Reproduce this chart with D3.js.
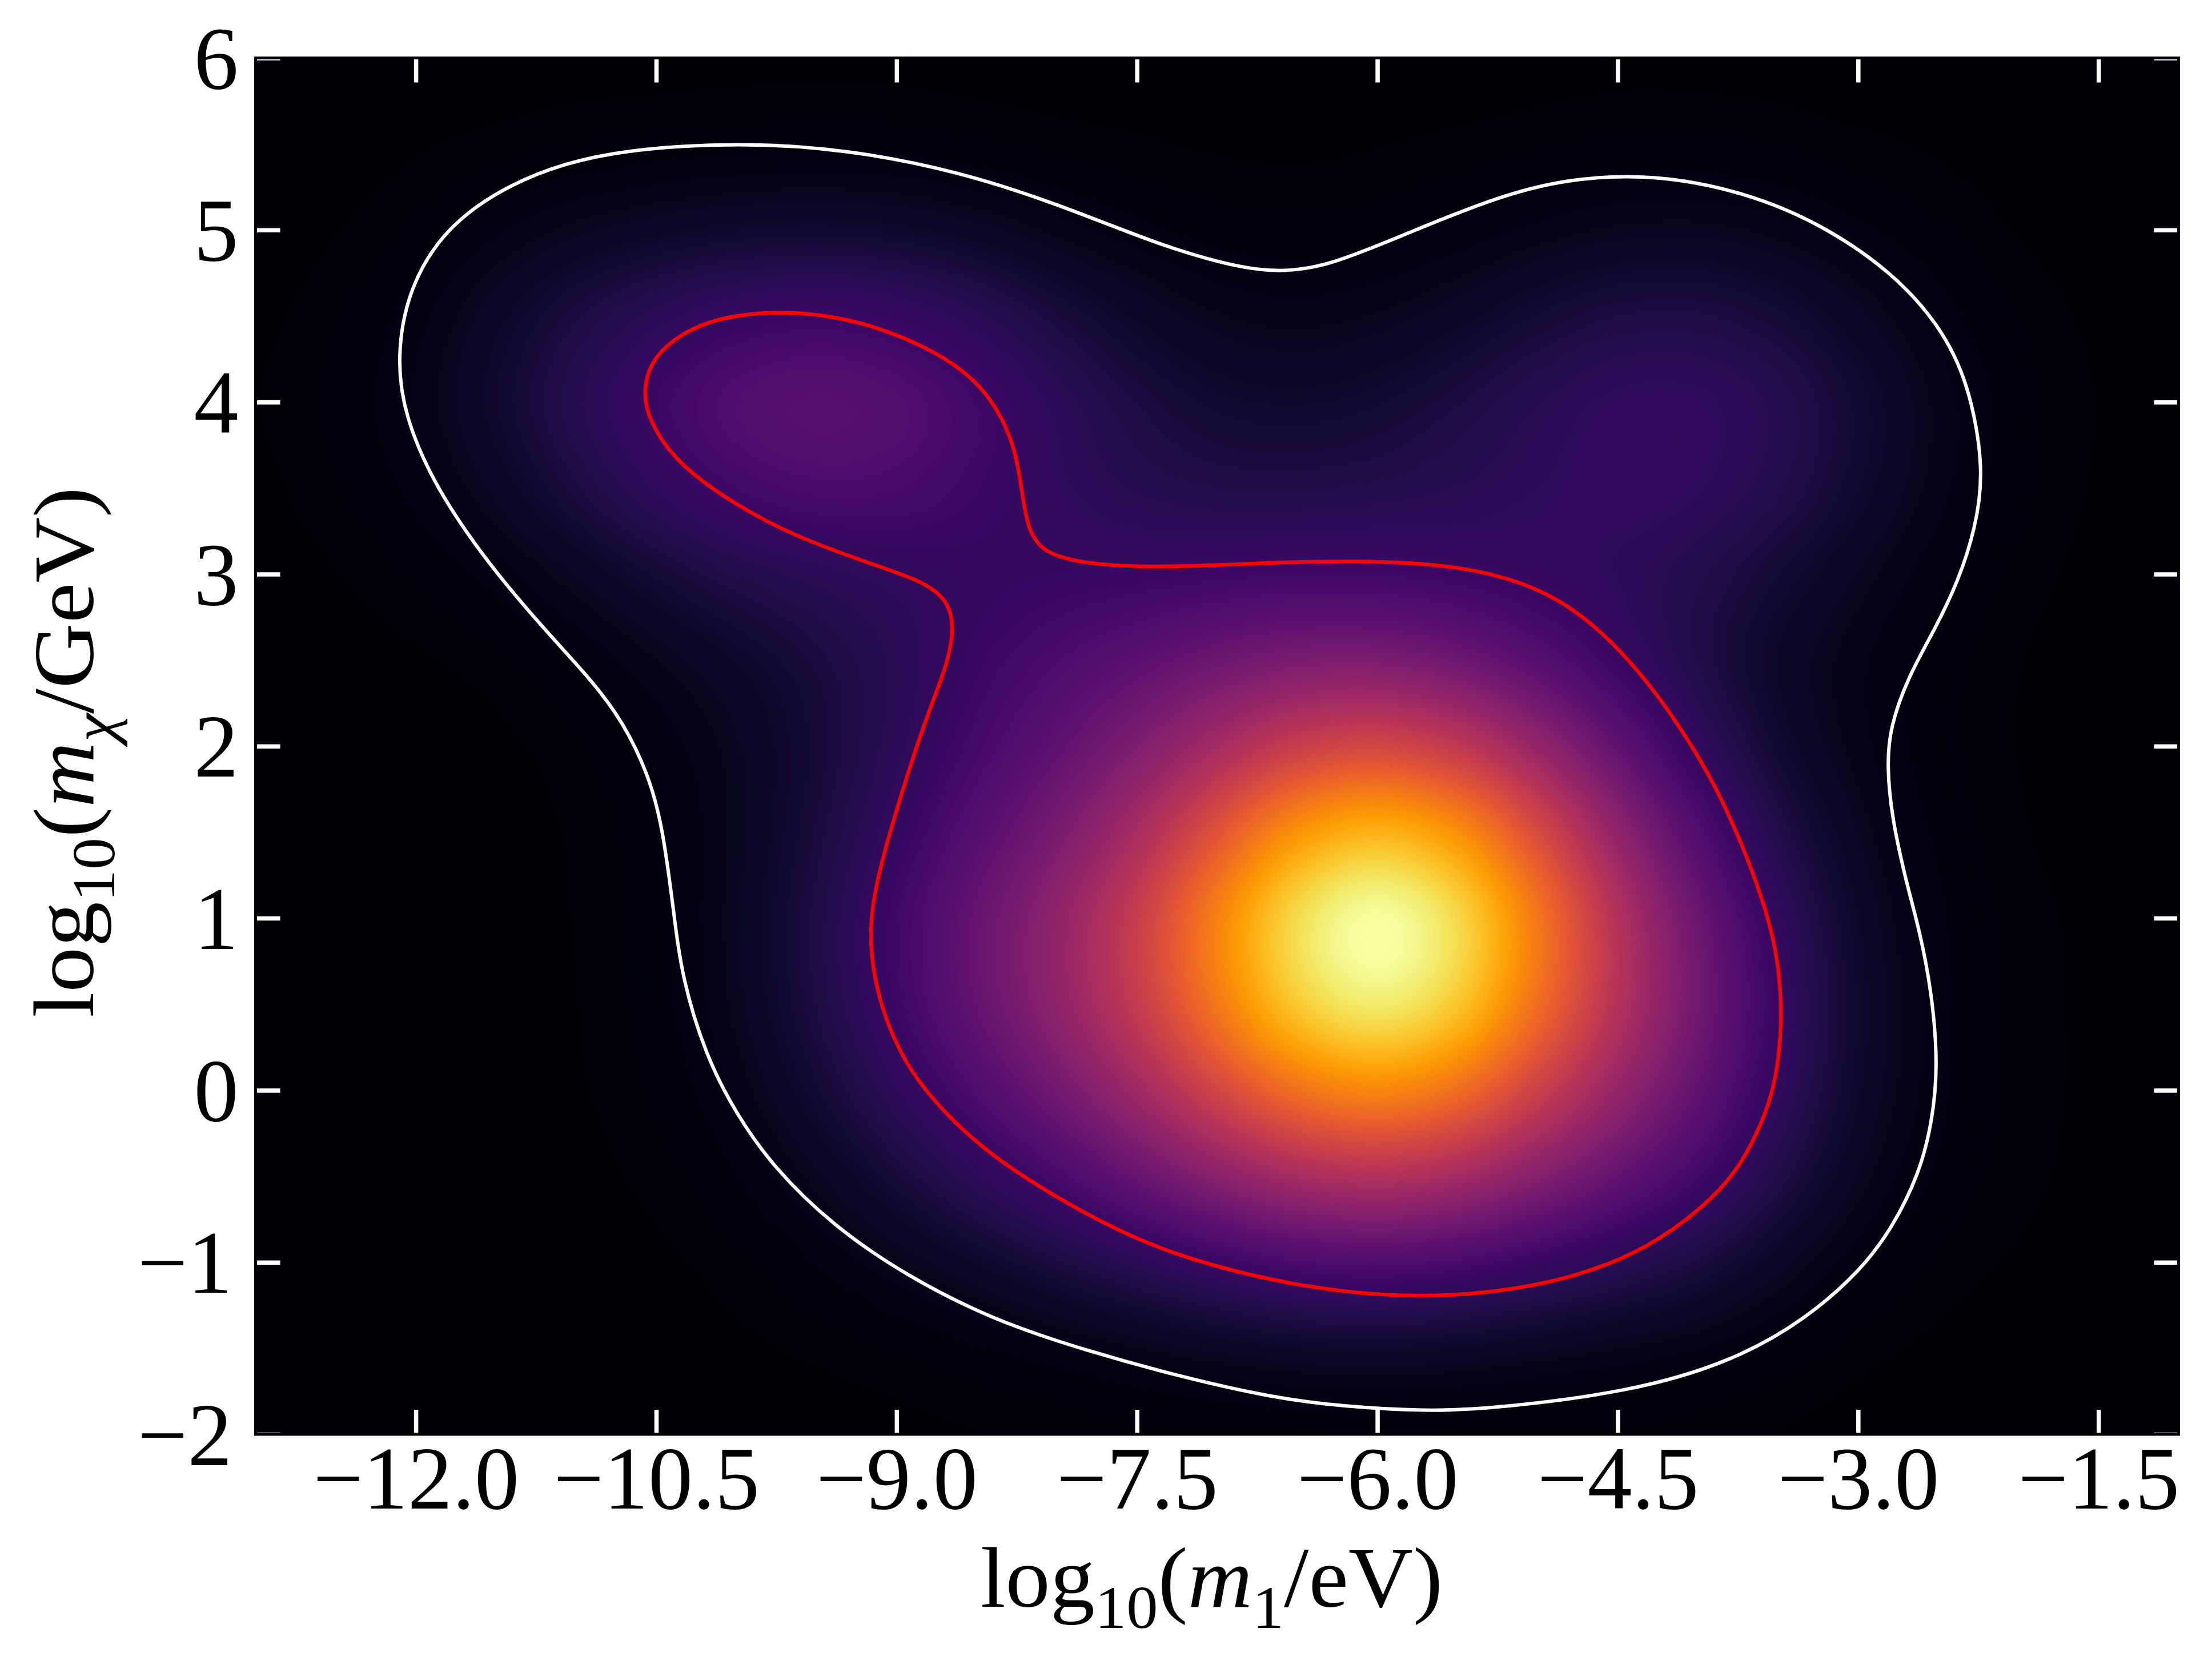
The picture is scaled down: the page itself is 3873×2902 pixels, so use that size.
<!DOCTYPE html>
<html><head><meta charset="utf-8">
<script src="https://cdn.jsdelivr.net/npm/d3@7"></script>
<style>html,body{margin:0;background:#fff}svg{display:block}text{font-family:"Liberation Serif",serif;fill:#000}</style>
</head><body><svg id="chart" width="3873" height="2902"></svg>
<script>
const xTicks=[-12,-10.5,-9,-7.5,-6,-4.5,-3,-1.5];
const yTicks=[-2,-1,0,1,2,3,4,5,6];
// credible-region outlines in (log10 m1, log10 m_chi)
const outerLevel=[[-12.12,4.25],[-12.05,4.66],[-11.80,5.04],[-11.34,5.31],[-10.81,5.46],[-10.02,5.51],[-9.31,5.47],[-8.61,5.34],[-7.99,5.15],[-7.38,4.92],[-6.95,4.80],[-6.63,4.75],[-6.3,4.79],[-5.79,4.99],[-5.26,5.19],[-4.82,5.30],[-4.26,5.325],[-3.71,5.22],[-3.26,5.05],[-2.805,4.77],[-2.50,4.46],[-2.31,4.12],[-2.21,3.60],[-2.27,3.26],[-2.37,2.97],[-2.516,2.686],[-2.69,2.40],[-2.80,2.11],[-2.82,1.89],[-2.79,1.585],[-2.70,1.21],[-2.615,0.925],[-2.54,0.57],[-2.50,0.14],[-2.54,-0.2],[-2.62,-0.487],[-2.78,-0.79],[-2.98,-1.046],[-3.33,-1.334],[-3.78,-1.575],[-4.42,-1.755],[-5.33,-1.855],[-5.7,-1.865],[-6.2,-1.84],[-6.67,-1.785],[-7.25,-1.66],[-7.82,-1.513],[-8.40,-1.335],[-8.95,-1.073],[-9.40,-0.785],[-9.77,-0.447],[-10.0,-0.14],[-10.19,0.197],[-10.34,0.655],[-10.39,1.03],[-10.46,1.535],[-10.55,1.84],[-10.71,2.145],[-10.9,2.38],[-11.19,2.67],[-11.55,3.06],[-11.886,3.515],[-12.07,3.92]];
const innerLevel=[[-10.58,4.06],[-10.54,4.23],[-10.38,4.38],[-10.13,4.49],[-9.73,4.535],[-9.31,4.49],[-8.95,4.38],[-8.62,4.22],[-8.40,4.02],[-8.26,3.745],[-8.22,3.49],[-8.18,3.25],[-8.08,3.12],[-7.82,3.06],[-7.46,3.04],[-7.0,3.05],[-6.73,3.065],[-6.09,3.08],[-5.46,3.05],[-4.97,2.92],[-4.616,2.69],[-4.316,2.38],[-4.125,2.13],[-3.94,1.855],[-3.77,1.535],[-3.60,1.13],[-3.50,0.79],[-3.47,0.417],[-3.51,0.055],[-3.60,-0.2],[-3.76,-0.48],[-3.965,-0.68],[-4.31,-0.92],[-4.78,-1.095],[-5.33,-1.185],[-5.85,-1.205],[-6.50,-1.145],[-7.29,-0.96],[-7.82,-0.726],[-8.40,-0.396],[-8.73,-0.107],[-8.96,0.165],[-9.12,0.535],[-9.17,0.857],[-9.15,1.1],[-9.07,1.42],[-8.87,2.02],[-8.77,2.27],[-8.68,2.49],[-8.64,2.69],[-8.68,2.85],[-8.84,2.96],[-9.13,3.05],[-9.64,3.22],[-10.02,3.41],[-10.38,3.65],[-10.55,3.90]];

// normalised posterior density (x 1000) on a half-unit grid; rows run from y=-2 up to y=6, columns from x=-13 to x=-1
const gridX=d3.range(-13,-0.99,0.5), gridY=d3.range(-2,6.01,0.5);
const density=[
[0,0,0,0,0,0,1,2,4,7,9,13,16,18,19,18,16,14,11,7,3,1,1,0,0],
[0,0,0,0,1,2,5,10,17,26,37,50,63,74,78,73,62,51,40,25,12,5,2,1,0],
[0,0,0,1,2,5,13,28,49,75,107,144,184,218,231,215,181,143,107,66,32,14,6,2,1],
[0,0,0,1,4,11,27,56,98,150,211,286,370,444,473,439,361,277,199,120,58,25,11,4,2],
[0,0,0,2,6,17,43,88,151,226,314,425,560,683,734,677,543,400,274,160,76,32,13,5,2],
[0,0,0,2,7,22,54,111,188,279,384,522,700,870,942,865,678,479,312,176,81,33,13,5,2],
[0,0,0,2,8,23,57,115,194,284,388,532,722,908,990,904,699,477,297,162,74,31,12,5,2],
[0,0,1,3,9,24,54,103,169,245,331,449,607,761,827,755,581,390,235,124,59,25,9,3,1],
[0,1,2,5,14,31,57,95,147,206,269,346,442,533,566,514,400,273,164,87,45,20,7,2,1],
[1,2,6,13,28,50,75,104,141,182,220,259,301,335,339,306,248,183,121,73,43,21,8,2,1],
[3,7,17,33,60,92,122,144,160,170,176,181,190,197,196,186,171,152,125,91,58,31,13,4,1],
[5,14,32,63,107,155,196,216,212,188,158,134,122,121,126,137,152,163,154,124,82,44,19,6,2],
[7,18,41,80,131,186,230,248,234,195,147,109,86,80,88,108,135,157,157,130,87,47,20,7,2],
[5,14,34,68,107,143,172,184,172,141,103,72,52,46,52,68,91,110,112,94,63,34,15,5,1],
[2,7,18,37,55,69,80,85,79,65,47,32,22,19,22,31,43,53,55,46,31,17,7,2,1],
[1,2,6,11,16,20,23,24,23,18,13,9,6,5,7,10,14,18,18,15,10,6,2,1,0],
[0,0,1,2,3,3,4,4,4,3,2,2,1,1,1,2,3,4,4,3,2,1,1,0,0]
];

const L=447.5,R=3814.5,T=101.5,B=2512;
const x=d3.scaleLinear().domain([-13,-1]).range([L,R]);
const y=d3.scaleLinear().domain([-2,6]).range([B,T]);
const colour=d3.scaleSequential(d3.interpolateInferno).domain([0,1000]);

// bicubic lookup so the density table paints as a smooth image
function cr(a,b,c,d,t){return b+0.5*t*(c-a+t*(2*a-5*b+4*c-d+t*(3*(b-c)+d-a)));}
function surface(dx,dy){
  const fx=(dx-gridX[0])/0.5, fy=(dy-gridY[0])/0.5;
  const i=Math.min(gridX.length-2,Math.floor(fx)), j=Math.min(gridY.length-2,Math.floor(fy));
  const tx=fx-i, ty=fy-j;
  const at=(a,b)=>density[Math.max(0,Math.min(gridY.length-1,b))][Math.max(0,Math.min(gridX.length-1,a))];
  const row=b=>cr(at(i-1,b),at(i,b),at(i+1,b),at(i+2,b),tx);
  return cr(row(j-1),row(j),row(j+1),row(j+2),ty);
}
const svg=d3.select("#chart");
const cw=Math.round((R-L)/2), ch=Math.round((B-T)/2);
const cv=document.createElement("canvas");cv.width=cw;cv.height=ch;
const ctx=cv.getContext("2d"),img=ctx.createImageData(cw,ch);
const lut=d3.range(1025).map(k=>d3.rgb(colour(k*1000/1024)));
for(let r=0;r<ch;r++){const dy=y.invert(T+(r+0.5)*2);for(let c=0;c<cw;c++){
  const v=Math.max(0,Math.min(1000,surface(x.invert(L+(c+0.5)*2),dy)));
  const q=lut[Math.round(v*1024/1000)],o=(r*cw+c)*4;img.data[o]=q.r;img.data[o+1]=q.g;img.data[o+2]=q.b;img.data[o+3]=255;}}
ctx.putImageData(img,0,0);
svg.append("image").attr("x",L).attr("y",T).attr("width",R-L).attr("height",B-T).attr("preserveAspectRatio","none").attr("href",cv.toDataURL());

const line=d3.line().x(d=>x(d[0])).y(d=>y(d[1])).curve(d3.curveBasisClosed);
svg.append("path").attr("d",line(outerLevel)).attr("fill","none").attr("stroke","#fff").attr("stroke-width",6);
svg.append("path").attr("d",line(innerLevel)).attr("fill","none").attr("stroke","#f00").attr("stroke-width",6.5);

const fmt=d=>(d<0?"\u2212":"")+Math.abs(d).toFixed(1);
const styleTicks=g=>{g.select(".domain").remove();g.selectAll(".tick line").attr("stroke","#fff").attr("stroke-width",7.5);};
const tickSize=43;
svg.append("g").attr("transform",`translate(0,${B})`).call(d3.axisBottom(x).tickValues(xTicks).tickSize(-tickSize).tickFormat(fmt)).call(styleTicks)
  .call(g=>g.selectAll("text").attr("font-size",156).attr("y",null).attr("dy",null).attr("transform","translate(0,130)").attr("text-anchor","middle"));
svg.append("g").attr("transform",`translate(0,${T})`).call(d3.axisTop(x).tickValues(xTicks).tickSize(-tickSize).tickFormat("")).call(styleTicks);
svg.append("g").attr("transform",`translate(${L},0)`).call(d3.axisLeft(y).tickValues(yTicks).tickSize(-tickSize).tickFormat(d=>(d<0?"\u2212":"")+Math.abs(d))).call(styleTicks)
  .call(g=>g.selectAll("text").attr("font-size",156).attr("dy",null).attr("x",null).attr("text-anchor","end").attr("transform",d=>`translate(${d<0?-41:-30},53)`));
svg.append("g").attr("transform",`translate(${R},0)`).call(d3.axisRight(y).tickValues(yTicks).tickSize(-tickSize).tickFormat("")).call(styleTicks);
svg.append("rect").attr("x",L).attr("y",T).attr("width",R-L).attr("height",B-T).attr("fill","none").attr("stroke","#000").attr("stroke-width",5);

function label(sel,sub,subItalic){
  const t=sel.attr("font-size",150);
  t.append("tspan").text("log");
  t.append("tspan").attr("font-size",106).attr("dy",37).text("10");
  t.append("tspan").attr("dy",-37).text("(");
  t.append("tspan").attr("font-style","italic").text("m");
  t.append("tspan").attr("font-size",106).attr("dy",37).attr("font-style",subItalic?"italic":null).text(sub);
  t.append("tspan").attr("dy",-37).text(sub==="1"?"/eV)":"/GeV)");
}
label(svg.append("text").attr("x",1717).attr("y",2814).attr("textLength",809).attr("lengthAdjust","spacingAndGlyphs"),"1",false);
label(svg.append("text").attr("transform","translate(163,1782) rotate(-90)").attr("textLength",929).attr("lengthAdjust","spacingAndGlyphs"),"\u03c7",true);
</script></body></html>
